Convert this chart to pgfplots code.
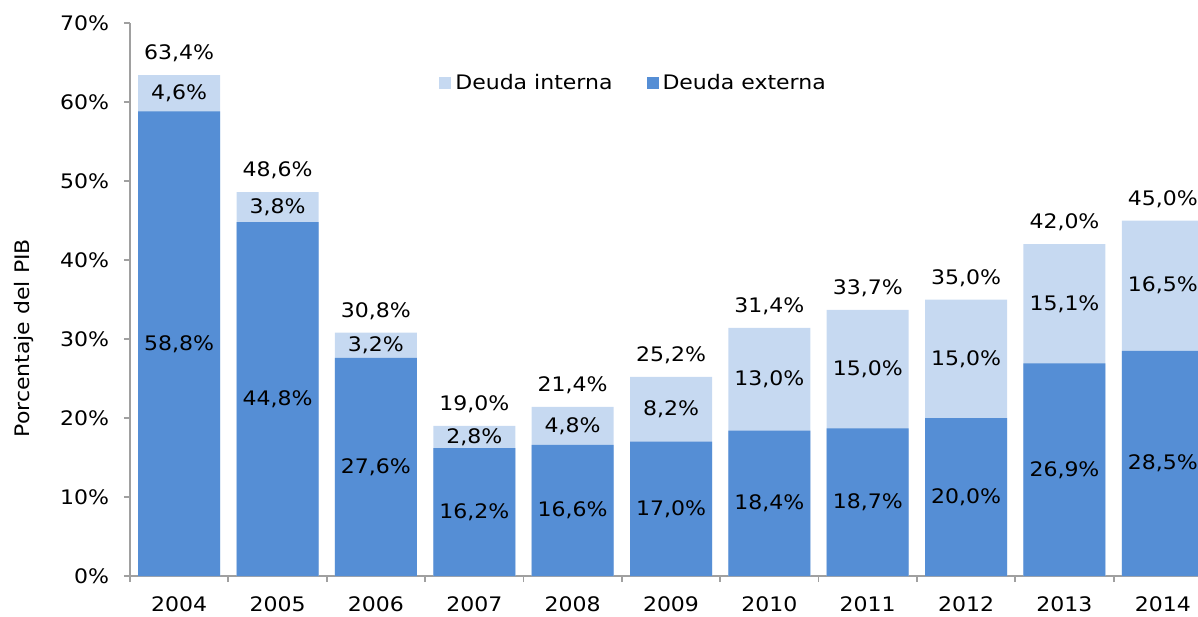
\documentclass[border=0pt]{standalone}
\usepackage{pgfplots}
\pgfplotsset{compat=1.18}
\usepackage{pgfplotstable}
\usepackage{fontspec}
\setmainfont[FakeStretch=1.1]{DejaVu Sans}
\definecolor{extc}{RGB}{85,142,213}
\definecolor{intc}{RGB}{198,217,241}
\definecolor{axgray}{RGB}{160,160,160}
\pgfplotstableread{
x ext int tot
0 58.8 4.6 63.4
1 44.8 3.8 48.6
2 27.6 3.2 30.8
3 16.2 2.8 19.0
4 16.6 4.8 21.4
5 17.0 8.2 25.2
6 18.4 13.0 31.4
7 18.7 15.0 33.7
8 20.0 15.0 35.0
9 26.9 15.1 42.0
10 28.5 16.5 45.0
}\data
\begin{document}
\begin{tikzpicture}[font=\fontsize{10}{12}\selectfont]
\begin{axis}[
  scale only axis, width=541pt, height=276.5pt,
  xmin=-0.5, xmax=10.5, ymin=0, ymax=70,
  axis x line*=bottom, axis y line*=left,
  axis line style={axgray, line width=0.9pt, -},
  tick style={axgray, line width=0.9pt},
  tick align=outside, major tick length=3pt,
  xtick={-0.5,0.5,1.5,2.5,3.5,4.5,5.5,6.5,7.5,8.5,9.5,10.5},
  x tick label as interval,
  xticklabels={2004,2005,2006,2007,2008,2009,2010,2011,2012,2013,2014},
  xticklabel style={yshift=-4pt},
  ytick={0,10,20,30,40,50,60,70},
  yticklabel={\pgfmathprintnumber{\tick}\%},
  yticklabel style={xshift=-4pt},
  /pgf/number format/assume math mode=true,
  ylabel={Porcentaje del PIB},
  ylabel style={at={(axis description cs:-0.098,0.43)}, anchor=center},
  legend style={at={(rel axis cs:0.28,0.891)}, anchor=west, draw=none, fill=none,
    legend columns=2, /tikz/every even column/.append style={column sep=15pt}},
]
\coordinate (O) at (rel axis cs:0,0);
\addplot[ybar, bar width=41pt, bar shift=0pt, fill=intc, draw=none,
  legend image code/.code={\fill[intc] (0pt,-3pt) rectangle (6pt,3pt);}]
  table[x=x, y=tot]{\data};
\addlegendentry{Deuda interna}
\addplot[ybar, bar width=41pt, bar shift=0pt, fill=extc, draw=none,
  legend image code/.code={\fill[extc] (0pt,-3pt) rectangle (6pt,3pt);}]
  table[x=x, y=ext]{\data};
\addlegendentry{Deuda externa}
\addplot[only marks, mark=none, point meta=explicit,
  nodes near coords={\pgfmathprintnumber[fixed,zerofill,precision=1,use comma]{\pgfplotspointmeta}\%},
  nodes near coords style={anchor=center, text=black}]
  table[x=x, y expr=\thisrow{ext}/2, meta=ext]{\data};
\addplot[only marks, mark=none, point meta=explicit,
  nodes near coords={\pgfmathprintnumber[fixed,zerofill,precision=1,use comma]{\pgfplotspointmeta}\%},
  nodes near coords style={anchor=center, text=black}]
  table[x=x, y expr=\thisrow{ext}+\thisrow{int}/2, meta=int]{\data};
\addplot[only marks, mark=none, point meta=explicit,
  nodes near coords={\pgfmathprintnumber[fixed,zerofill,precision=1,use comma]{\pgfplotspointmeta}\%},
  nodes near coords style={anchor=south, yshift=3pt, text=black}]
  table[x=x, y=tot, meta=tot]{\data};
\end{axis}
\pgfresetboundingbox
\path (O) ++(-65pt,-20pt) rectangle ++(599pt,308pt);
\end{tikzpicture}
\end{document}
